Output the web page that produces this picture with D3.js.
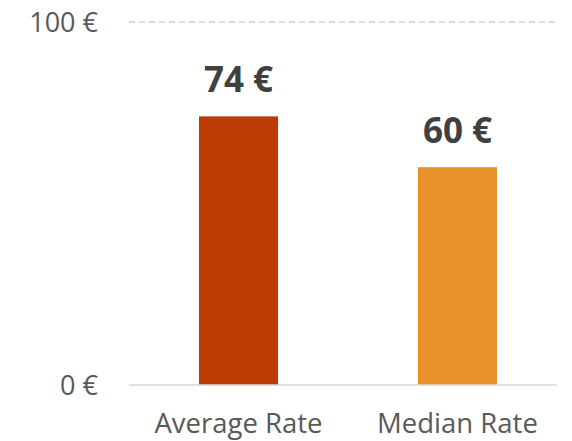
<!DOCTYPE html>
<html><head><meta charset="utf-8">
<script src="https://cdn.jsdelivr.net/npm/d3@7"></script>
<style>body{margin:0;background:#fff}svg{display:block}</style>
</head><body>
<svg id="c" width="572" height="441"></svg>
<script>
const categories = ["Average Rate", "Median Rate"];
const values = [74, 60];
const tickValues = [0, 100];
const tickLabels = ["0 €", "100 €"];
const colors = ["#BC3C05", "#E8912A"];

const svg = d3.select("#c");
const font = "'Open Sans', sans-serif";
const x = d3.scaleBand().domain(categories).range([139, 557]).paddingInner(0.639).paddingOuter(0.274);
const y = d3.scaleLinear().domain([0, 100]).range([385, 22]);

// gridline at 100
svg.append("line").attr("x1", 129).attr("x2", 557)
  .attr("y1", y(100)).attr("y2", y(100))
  .attr("stroke", "#d0d0d0").attr("stroke-width", 1.3).attr("stroke-dasharray", "6,4");

const yAxis = d3.axisLeft(y).tickValues(tickValues).tickFormat((d,i)=>tickLabels[i]).tickSize(0).tickPadding(0);
const ga = svg.append("g").attr("transform", "translate(98,0)").call(yAxis);
ga.select(".domain").remove();
ga.selectAll("text").attr("font-family", font).attr("font-size", 27).attr("fill", "#595959").attr("dy", "0.36em");

svg.selectAll("rect.bar").data(values).join("rect").attr("class","bar")
  .attr("x", (d,i)=>x(categories[i])).attr("width", x.bandwidth())
  .attr("y", d=>y(d)).attr("height", d=>y(0)-y(d))
  .attr("fill", (d,i)=>colors[i]);

// baseline
svg.append("line").attr("x1", 129).attr("x2", 557).attr("y1", 385).attr("y2", 385)
  .attr("stroke", "#d9d9d9").attr("stroke-width", 1.5);

svg.selectAll("text.val").data(values).join("text").attr("class","val")
  .attr("x", (d,i)=>x(categories[i]) + x.bandwidth()/2).attr("y", d=>y(d) - 24)
  .attr("text-anchor", "middle").attr("font-family", font).attr("font-weight", "bold")
  .attr("font-size", 35).attr("fill", "#404040").text(d=>d + " €");

svg.selectAll("text.cat").data(categories).join("text").attr("class","cat")
  .attr("x", d=>x(d) + x.bandwidth()/2).attr("y", 433)
  .attr("text-anchor", "middle").attr("font-family", font)
  .attr("font-size", 27.5).attr("fill", "#595959").text(d=>d);
</script>
</body></html>
